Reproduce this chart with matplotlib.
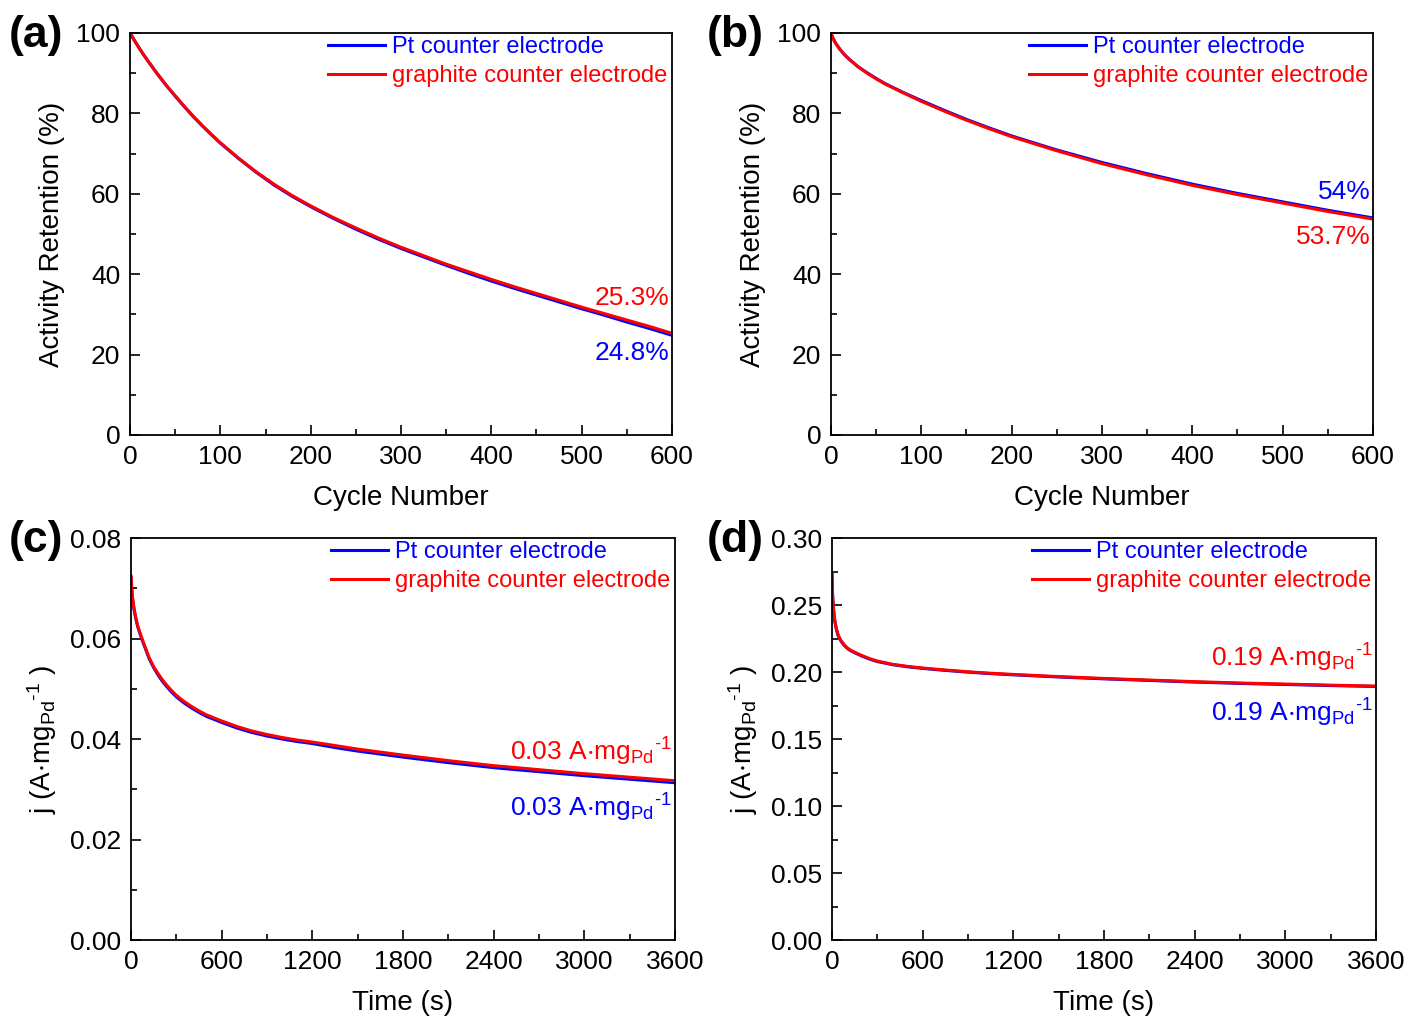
import numpy as np
import matplotlib
matplotlib.use('Agg')
import matplotlib.pyplot as plt
from matplotlib.ticker import MultipleLocator, FormatStrFormatter

plt.rcParams['font.family'] = ['Liberation Sans', 'DejaVu Sans']
plt.rcParams['mathtext.fontset'] = 'custom'
plt.rcParams['mathtext.rm'] = 'Liberation Sans'
plt.rcParams['mathtext.it'] = 'Liberation Sans'
plt.rcParams['mathtext.default'] = 'regular'

BLUE = '#0000ff'
RED = '#ff0000'

# (a) activity retention vs cycle number
cyc_a = [0, 5, 10, 15, 20, 30, 40, 50, 60, 70, 80, 90, 100, 120, 140, 160, 180, 200,
         225, 250, 275, 300, 325, 350, 375, 400, 425, 450, 475, 500, 525, 550, 575, 600]
gr_a = [100, 98.1, 96.3, 94.6, 93.0, 89.9, 87.0, 84.4, 81.8, 79.3, 77.0, 74.8, 72.7,
        68.9, 65.4, 62.3, 59.5, 57.0, 54.1, 51.5, 49.0, 46.7, 44.6, 42.5, 40.6, 38.7,
        36.9, 35.2, 33.5, 31.8, 30.2, 28.6, 27.0, 25.3]
pt_a = [100, 98.1, 96.3, 94.6, 93.0, 89.9, 87.0, 84.3, 81.7, 79.2, 76.9, 74.7, 72.6,
        68.8, 65.3, 62.1, 59.3, 56.8, 53.9, 51.2, 48.7, 46.4, 44.3, 42.2, 40.2, 38.3,
        36.5, 34.8, 33.1, 31.4, 29.8, 28.1, 26.5, 24.8]

# (b) activity retention vs cycle number
cyc_b = [0, 2, 5, 10, 15, 20, 30, 40, 50, 60, 80, 100, 125, 150, 175, 200, 250, 300,
         350, 400, 450, 500, 550, 600]
gr_b = [100, 98.8, 97.5, 95.9, 94.6, 93.5, 91.6, 90.0, 88.6, 87.3, 85.1, 83.0, 80.6,
        78.3, 76.2, 74.2, 70.7, 67.5, 64.7, 62.1, 59.8, 57.7, 55.6, 53.7]
pt_b = [100, 98.8, 97.5, 95.9, 94.6, 93.5, 91.6, 90.1, 88.7, 87.4, 85.2, 83.2, 80.8,
        78.5, 76.4, 74.4, 70.9, 67.8, 65.0, 62.4, 60.1, 58.0, 55.9, 54.0]

# (c) chronoamperometry
t_c = [0, 5, 10, 20, 30, 45, 60, 80, 100, 120, 150, 180, 210, 240, 270, 300, 350, 400,
       450, 500, 600, 700, 800, 900, 1000, 1100, 1200, 1350, 1500, 1650, 1800, 2100,
       2400, 2700, 3000, 3300, 3600]
gr_c = [0.0724, 0.0700, 0.0682, 0.0660, 0.0644, 0.0625, 0.0611, 0.0594, 0.0578, 0.0562,
        0.0544, 0.0530, 0.0517, 0.0506, 0.0496, 0.0487, 0.0475, 0.0465, 0.0456, 0.0448,
        0.0436, 0.0425, 0.0416, 0.0409, 0.0403, 0.0398, 0.0394, 0.0387, 0.0380, 0.0374,
        0.0368, 0.0357, 0.0347, 0.0339, 0.0331, 0.0324, 0.0317]
pt_c = [0.0722, 0.0698, 0.0680, 0.0658, 0.0642, 0.0623, 0.0609, 0.0592, 0.0576, 0.0560,
        0.0542, 0.0527, 0.0514, 0.0503, 0.0493, 0.0484, 0.0472, 0.0462, 0.0453, 0.0445,
        0.0433, 0.0422, 0.0413, 0.0406, 0.0400, 0.0395, 0.0391, 0.0383, 0.0376, 0.0370,
        0.0364, 0.0353, 0.0343, 0.0335, 0.0327, 0.0320, 0.0313]

# (d) chronoamperometry
t_d = [0, 2, 5, 10, 15, 20, 30, 40, 50, 60, 80, 100, 120, 150, 200, 250, 300, 400, 500,
       600, 750, 900, 1050, 1200, 1500, 1800, 2100, 2400, 2700, 3000, 3300, 3600]
gr_d = [0.274, 0.264, 0.256, 0.248, 0.242, 0.238, 0.232, 0.228, 0.2255, 0.2235, 0.2205,
        0.2182, 0.2165, 0.2148, 0.2122, 0.2100, 0.2082, 0.2058, 0.2042, 0.2030, 0.2015,
        0.2002, 0.1991, 0.1982, 0.1966, 0.1952, 0.1940, 0.1928, 0.1918, 0.1910, 0.1902,
        0.1895]
pt_d = [0.273, 0.263, 0.255, 0.247, 0.241, 0.237, 0.2315, 0.2275, 0.2250, 0.2230, 0.2200,
        0.2178, 0.2161, 0.2144, 0.2118, 0.2096, 0.2078, 0.2055, 0.2039, 0.2027, 0.2012,
        0.1999, 0.1988, 0.1979, 0.1963, 0.1949, 0.1937, 0.1925, 0.1915, 0.1907, 0.1899,
        0.1892]

legend_labels = ['Pt counter electrode', 'graphite counter electrode']
HY = '\u2010'
UNIT = r'A$\cdot$mg$_{Pd}{}^{' + HY + r'1}$'
j_label = 'j (' + UNIT + ' )'


def unit_text(val):
    return val + ' ' + UNIT


fig = plt.figure(figsize=(14.07, 10.18), dpi=100)
ax_a = fig.add_axes([0.0924, 0.5727, 0.3852, 0.3949])
ax_b = fig.add_axes([0.5906, 0.5727, 0.3852, 0.3949])
ax_c = fig.add_axes([0.0931, 0.0766, 0.3866, 0.3949])
ax_d = fig.add_axes([0.5913, 0.0766, 0.3866, 0.3949])

panels = [
    (ax_a, cyc_a, pt_a, gr_a, '(a)', 0.006),
    (ax_b, cyc_b, pt_b, gr_b, '(b)', 0.502),
    (ax_c, t_c, pt_c, gr_c, '(c)', 0.006),
    (ax_d, t_d, pt_d, gr_d, '(d)', 0.502),
]

for ax, x, pt, gr, tag, tx in panels:
    ax.plot(x, pt, color=BLUE, lw=2.2, label=legend_labels[0])
    ax.plot(x, gr, color=RED, lw=2.2, label=legend_labels[1])
    ax.tick_params(which='both', direction='in', top=False, right=False,
                   labelsize=19, width=1.2, pad=7)
    ax.tick_params(which='major', length=7)
    ax.tick_params(which='minor', length=4)
    for s in ax.spines.values():
        s.set_linewidth(1.3)
    ax.legend(loc='upper right', bbox_to_anchor=(1.03, 1.045), frameon=False,
              fontsize=17, handlelength=2.4, handletextpad=0.3, labelspacing=0.3,
              labelcolor='linecolor')
    pos = ax.get_position()
    fig.text(tx, pos.y1 - 0.002, tag, fontsize=32, fontweight='bold',
             ha='left', va='center')

for ax in (ax_a, ax_b):
    ax.set_xlim(0, 600)
    ax.set_ylim(0, 100)
    ax.xaxis.set_major_locator(MultipleLocator(100))
    ax.xaxis.set_minor_locator(MultipleLocator(50))
    ax.yaxis.set_major_locator(MultipleLocator(20))
    ax.yaxis.set_minor_locator(MultipleLocator(10))
    ax.set_xlabel('Cycle Number', fontsize=20, labelpad=12)
    ax.set_ylabel('Activity Retention (%)', fontsize=20, labelpad=8)

for ax in (ax_c, ax_d):
    ax.set_xlim(0, 3600)
    ax.xaxis.set_major_locator(MultipleLocator(600))
    ax.xaxis.set_minor_locator(MultipleLocator(300))
    ax.set_xlabel('Time (s)', fontsize=20, labelpad=12)
    ax.set_ylabel(j_label, fontsize=20, labelpad=8)

ax_c.set_ylim(0, 0.08)
ax_c.yaxis.set_major_locator(MultipleLocator(0.02))
ax_c.yaxis.set_minor_locator(MultipleLocator(0.01))
ax_c.yaxis.set_major_formatter(FormatStrFormatter('%.2f'))
ax_d.set_ylim(0, 0.30)
ax_d.yaxis.set_major_locator(MultipleLocator(0.05))
ax_d.yaxis.set_minor_locator(MultipleLocator(0.025))
ax_d.yaxis.set_major_formatter(FormatStrFormatter('%.2f'))

# end-value annotations
ann = dict(ha='right', va='center', fontsize=19)
ax_a.text(0.995, 0.34, '25.3%', color=RED, transform=ax_a.transAxes, **ann)
ax_a.text(0.995, 0.203, '24.8%', color=BLUE, transform=ax_a.transAxes, **ann)
ax_b.text(0.995, 0.604, '54%', color=BLUE, transform=ax_b.transAxes, **ann)
ax_b.text(0.995, 0.493, '53.7%', color=RED, transform=ax_b.transAxes, **ann)
ax_c.text(0.995, 0.468, unit_text('0.03'), color=RED, transform=ax_c.transAxes, **ann)
ax_c.text(0.995, 0.328, unit_text('0.03'), color=BLUE, transform=ax_c.transAxes, **ann)
ax_d.text(0.995, 0.703, unit_text('0.19'), color=RED, transform=ax_d.transAxes, **ann)
ax_d.text(0.995, 0.565, unit_text('0.19'), color=BLUE, transform=ax_d.transAxes, **ann)

fig.savefig('out.png', dpi=100)
